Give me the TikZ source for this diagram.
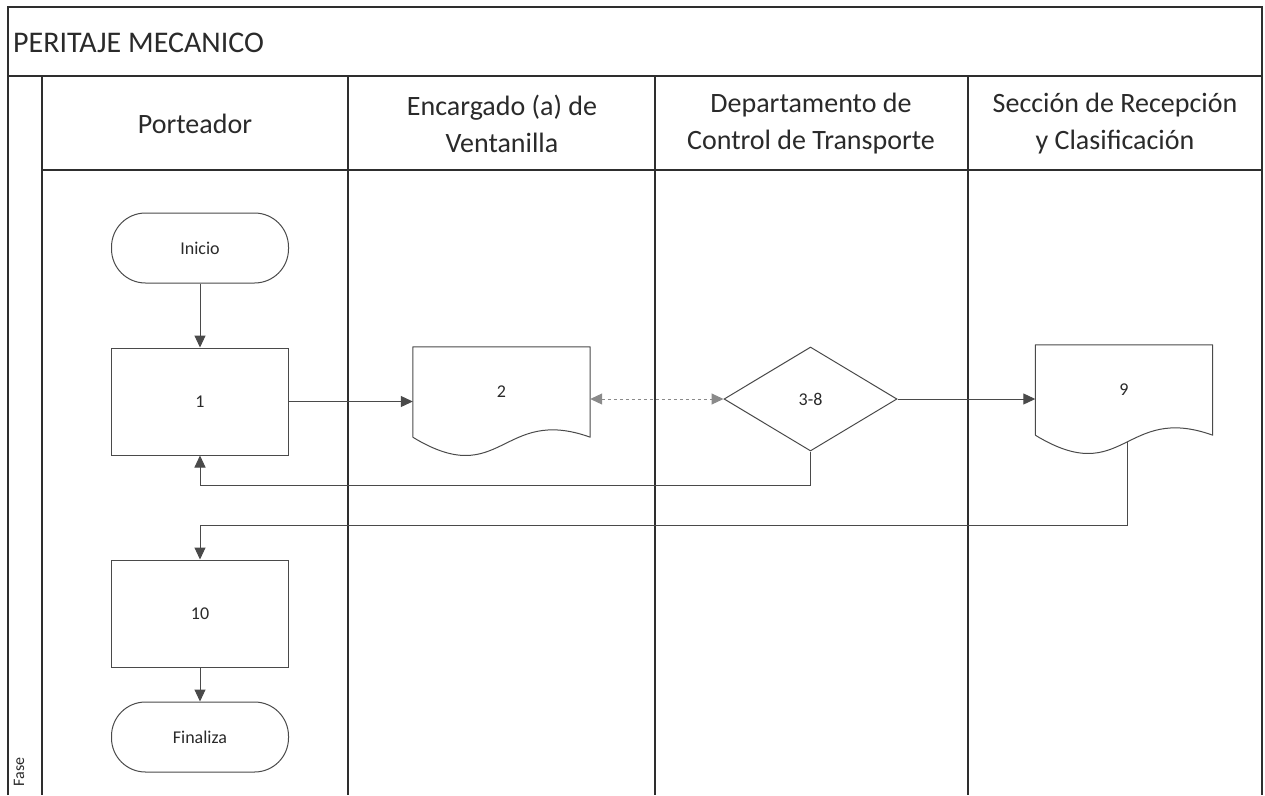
\documentclass[tikz,border=0pt]{standalone}
\usepackage{fontspec}
\setmainfont{Carlito}
\usetikzlibrary{shapes.geometric,arrows.meta,calc}
\definecolor{frame}{HTML}{2E2E2E}
\definecolor{shp}{HTML}{4A4A4A}
\definecolor{txt}{HTML}{2A2A2A}
\definecolor{dsh}{HTML}{8A8A8A}
\begin{document}
\begin{tikzpicture}[x=1pt,y=-1pt,
  frameline/.style={draw=frame, line width=1.3pt},
  nodefont/.style={font=\fontsize{18}{21}\selectfont, text=txt},
  term/.style={draw=shp, line width=1pt, rounded corners=34pt, minimum width=177pt, minimum height=70pt, inner sep=0pt, nodefont},
  proc/.style={draw=shp, line width=1pt, minimum width=177pt, minimum height=107pt, inner sep=0pt, nodefont},
  dec/.style={diamond, draw=shp, line width=1pt, minimum width=173pt, minimum height=104pt, inner sep=0pt, nodefont},
  docbox/.style={draw=none, minimum width=177pt, minimum height=90pt, inner sep=0pt, nodefont},
  docline/.style={draw=shp, line width=1pt, line join=round},
  flow/.style={draw=shp, line width=1pt, -{Triangle[length=12pt,width=11pt]}},
  dflow/.style={draw=dsh, line width=1pt, dashed, {Triangle[length=12pt,width=11pt]}-{Triangle[length=12pt,width=11pt]}},
  hdr/.style={font=\fontsize{28}{37}\selectfont, align=center, text=txt},
]
\useasboundingbox (0,0) rectangle (1265,795);
\fill[white] (0,0) rectangle (1265,795);

% frame and lanes
\draw[frameline] (8,795) -- (8,7) -- (1262,7) -- (1262,795);
\draw[frameline] (8,76) -- (1262,76);
\draw[frameline] (42,170) -- (1262,170);
\draw[frameline] (42,76) -- (42,795);
\draw[frameline] (348,76) -- (348,795);
\draw[frameline] (655,76) -- (655,795);
\draw[frameline] (968,76) -- (968,795);

% texts
\node[font=\fontsize{30}{36}\selectfont, text=txt, anchor=west, inner sep=2pt] (title) at (11,43) {PERITAJE MECANICO};
\node[hdr] (h1) at (195,124) {Porteador};
\node[hdr] (h2) at (502,124) {Encargado (a) de\\Ventanilla};
\node[hdr] (h3) at (811,124) {Departamento de\\Control de Transporte};
\node[hdr] (h4) at (1115,124) {Sección de Recepción\\y Clasificación};
\node[rotate=90, font=\fontsize{16}{18}\selectfont, text=txt] (fase) at (19,772) {Fase};

% nodes
\node[term] (ini) at (200,248) {Inicio};
\node[proc] (b1) at (200,401.5) {1};
\node[docbox] (d2) at (501.5,392) {2};
\node[dec] (dia) at (810.5,399) {3-8};
\node[docbox] (d9) at (1124,390) {9};
\node[proc] (b10) at (200,613.5) {10};
\node[term] (fin) at (200,737) {Finaliza};

% document outlines
\draw[docline] (d2.south west) -- (d2.north west) -- (d2.north east) -- (d2.south east)
  .. controls ($(d2.south)+(0,-32)$) and ($(d2.south)+(0,54)$) .. (d2.south west);
\draw[docline] (d9.south west) -- (d9.north west) -- (d9.north east) -- (d9.south east)
  .. controls ($(d9.south)+(0,-32)$) and ($(d9.south)+(0,54)$) .. (d9.south west);
\coordinate (d9out) at ($(d9.south)+(3,7)$);

% connectors
\draw[flow] (ini) -- (b1);
\draw[flow] (b1.east) -- (b1.east -| d2.west);
\draw[dflow] (dia.west -| d2.east) -- (dia.west);
\draw[flow] (dia.east) -- (dia.east -| d9.west);
\draw[flow] (dia.south) |- ($(b1.south)+(0,30)$) -- (b1.south);
\draw[flow] (d9out) |- ($(b10.north)+(0,-34)$) -- (b10.north);
\draw[flow] (b10) -- (fin);
\end{tikzpicture}
\end{document}
